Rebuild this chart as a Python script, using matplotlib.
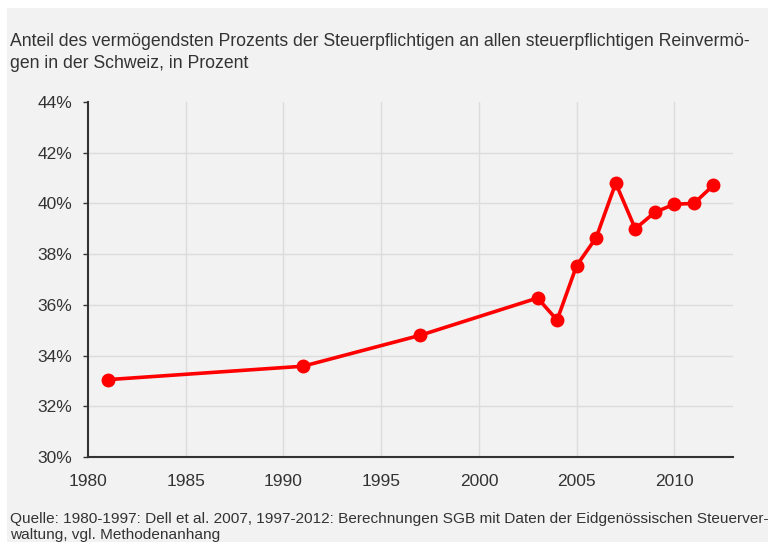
import matplotlib.pyplot as plt
from matplotlib.patches import Rectangle
from matplotlib.ticker import FuncFormatter

years = [1981, 1991, 1997, 2003, 2004, 2005, 2006, 2007, 2008, 2009, 2010, 2011, 2012]
share = [33.05, 33.58, 34.80, 36.27, 35.40, 37.55, 38.65, 40.80, 39.00, 39.65, 39.97, 40.00, 40.72]

x_ticks = [1980, 1985, 1990, 1995, 2000, 2005, 2010]
y_ticks = [30, 32, 34, 36, 38, 40, 42, 44]

title = ("Anteil des vermögendsten Prozents der Steuerpflichtigen an allen steuerpflichtigen Reinvermö-\n"
         "gen in der Schweiz, in Prozent")
source = ("Quelle: 1980-1997: Dell et al. 2007, 1997-2012: Berechnungen SGB mit Daten der Eidgenössischen Steuerver-\n"
          "waltung, vgl. Methodenanhang")

plt.rcParams['font.family'] = ['Liberation Sans', 'DejaVu Sans']
txt = '#333333'
bg = '#f2f2f2'

fig = plt.figure(figsize=(7.68, 5.42), dpi=100)
W, H = 768, 542
fig.patches.append(Rectangle((7 / W, 0), 1, 1 - 8 / H, transform=fig.transFigure,
                             facecolor=bg, edgecolor='none', zorder=-10))

ax = fig.add_axes([88 / W, 1 - 457 / H, (733 - 88) / W, (457 - 102) / H])
ax.set_facecolor(bg)
ax.plot(years, share, color='#ff0000', lw=2.6, marker='o', ms=9, zorder=3, clip_on=False)

ax.set_xlim(1980, 2013)
ax.set_ylim(30, 44)
ax.set_xticks(x_ticks)
ax.set_yticks(y_ticks)
ax.yaxis.set_major_formatter(FuncFormatter(lambda v, p: f"{v:.0f}%"))

for y in y_ticks[1:-1]:
    ax.axhline(y, color='#dcdcdc', lw=1, zorder=1)
for x in x_ticks[1:]:
    ax.axvline(x, color='#dcdcdc', lw=1, zorder=1)

for s in ['top', 'right']:
    ax.spines[s].set_visible(False)
for s in ['left', 'bottom']:
    ax.spines[s].set_color('#333333')
    ax.spines[s].set_linewidth(1.5)
ax.tick_params(axis='y', length=3.6, width=1, color='#333333', labelsize=12.5, labelcolor=txt, pad=8)
ax.tick_params(axis='x', length=0, labelsize=12.5, labelcolor=txt, pad=12)

fig.text(10 / W, 1 - 33 / H, title, fontsize=12.7, color=txt, va='top', linespacing=1.4)
fig.text(10 / W, 1 - 512 / H, source, fontsize=11.1, color=txt, va='top', linespacing=1.15)

fig.savefig('out.png', dpi=100, facecolor='white')
